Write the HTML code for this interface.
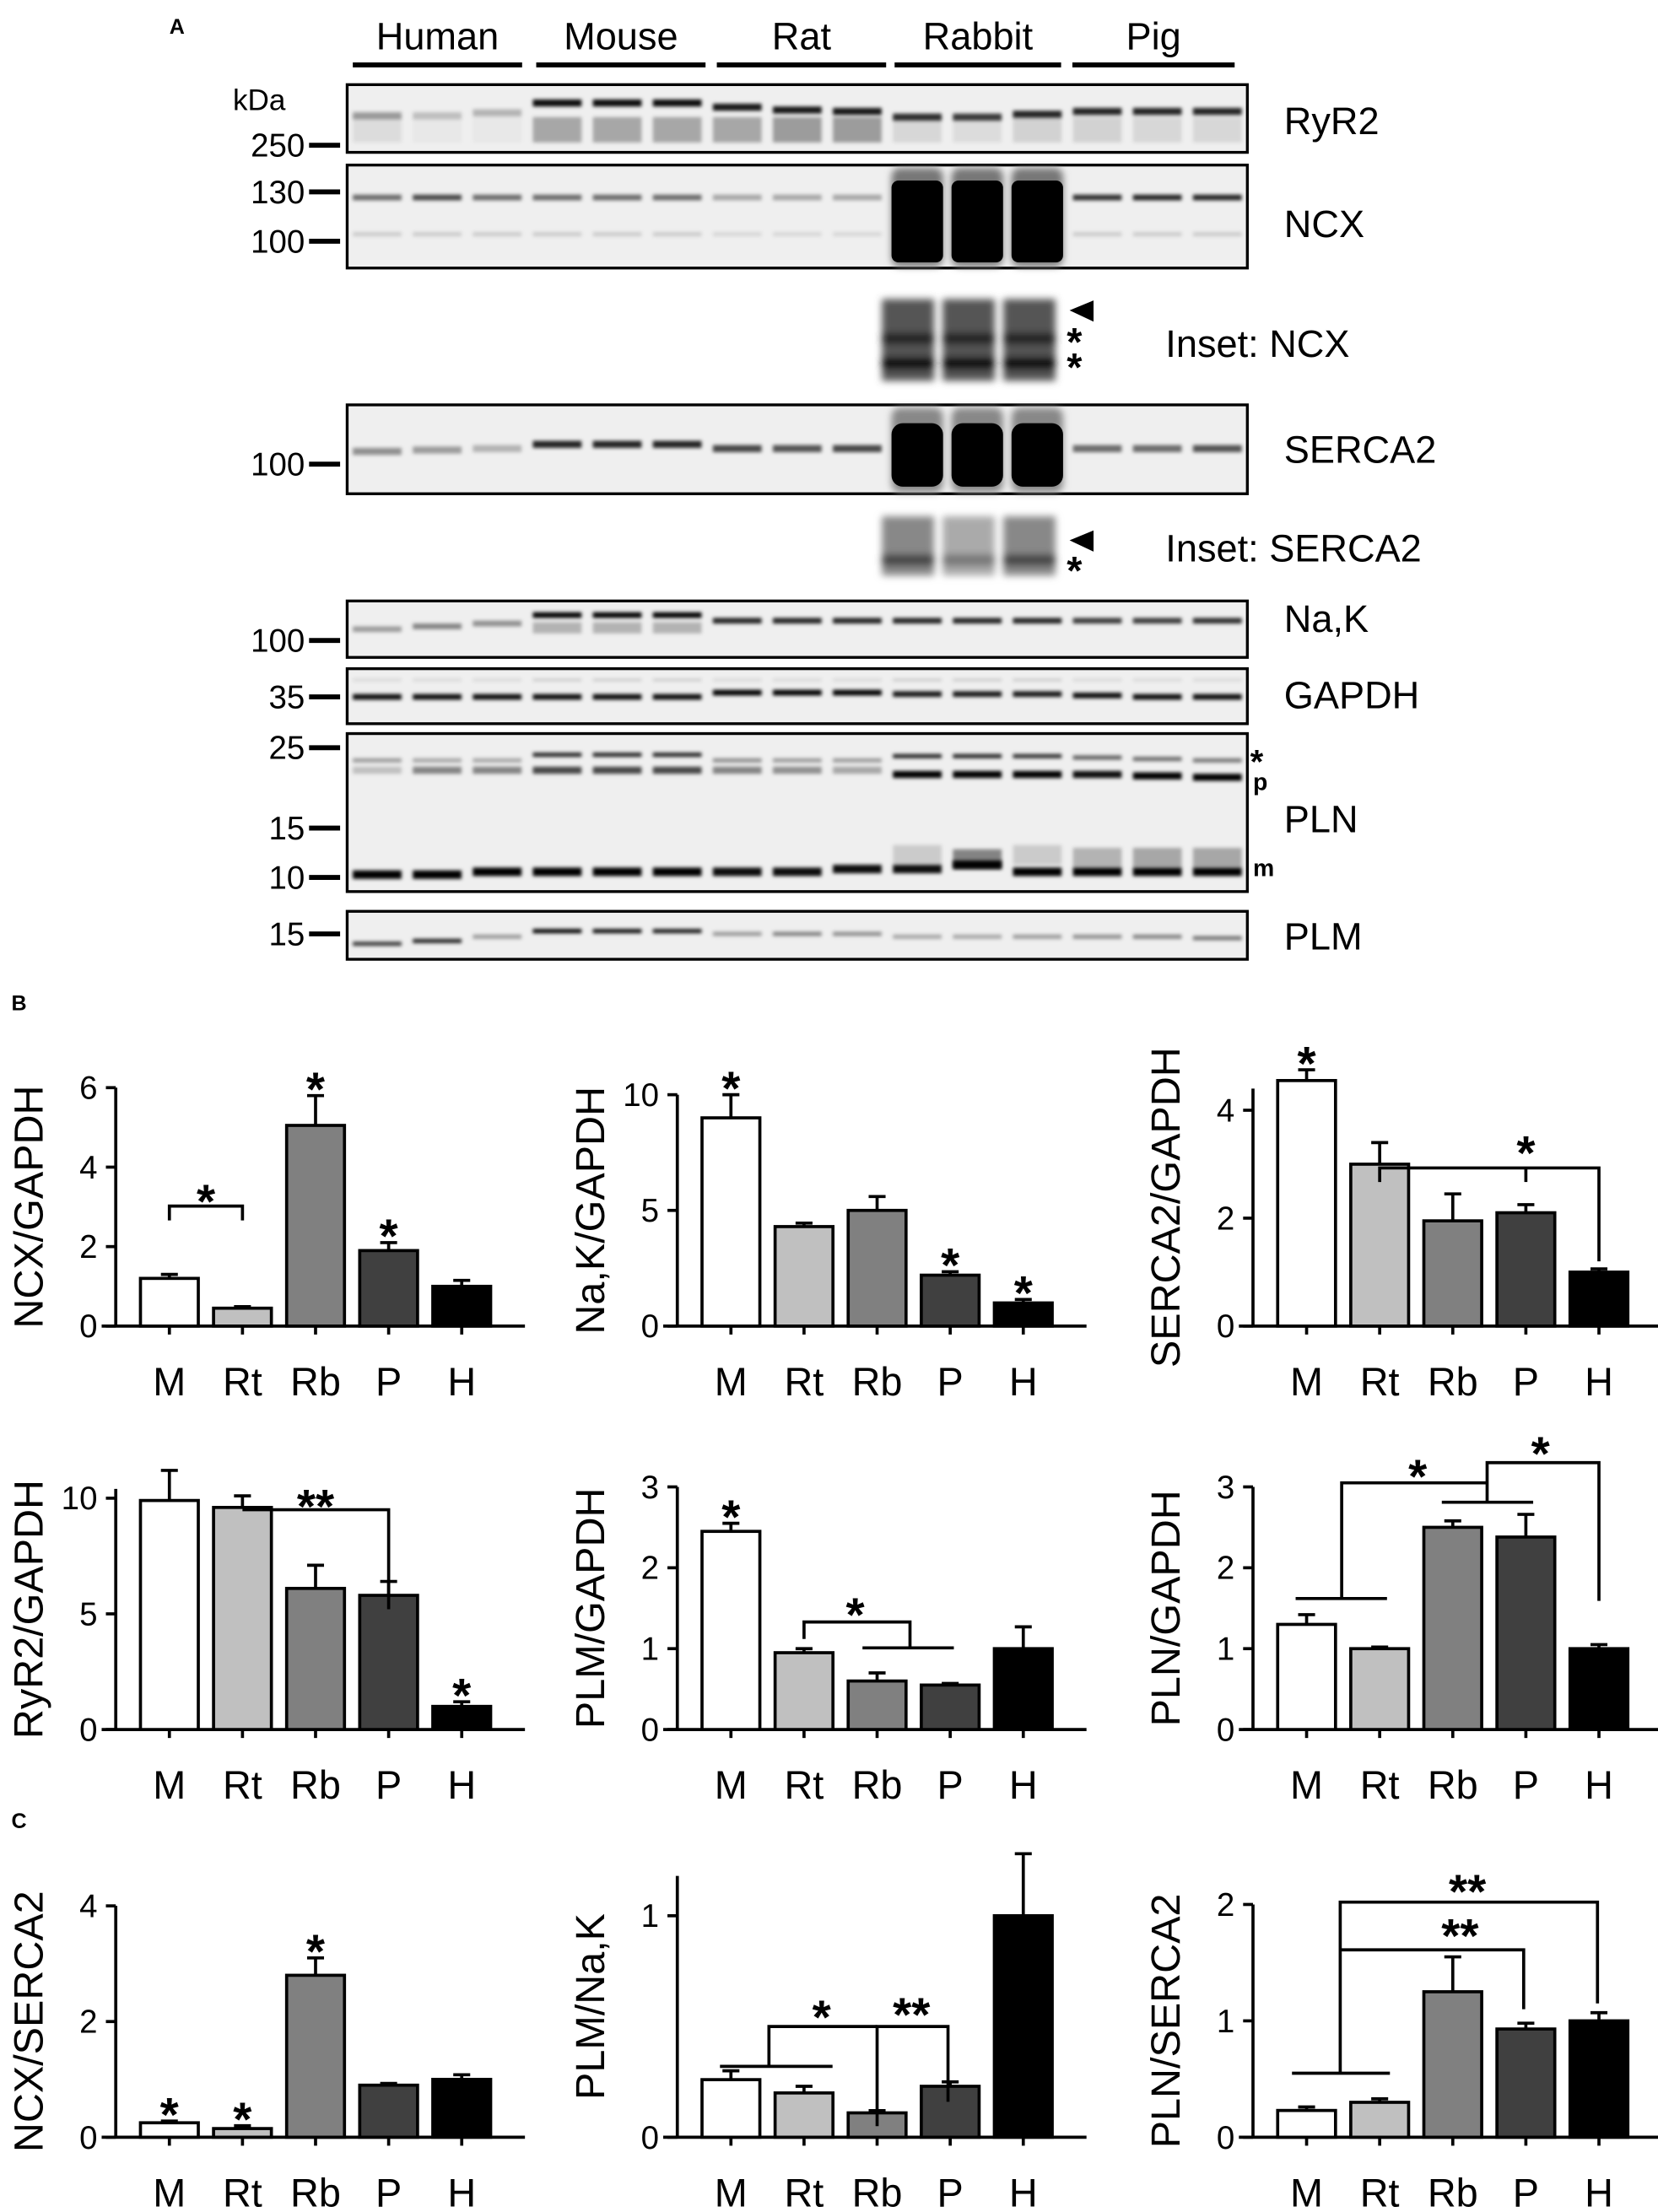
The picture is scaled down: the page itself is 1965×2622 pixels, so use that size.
<!DOCTYPE html>
<html><head><meta charset="utf-8"><style>
html,body{margin:0;padding:0;background:#fff;}
svg{display:block;font-family:"Liberation Sans",Arial,sans-serif;}
</style></head><body>
<svg id="fig" width="1965" height="2622" viewBox="0 0 1175 1568" xmlns="http://www.w3.org/2000/svg">
<defs>
<filter id="blur" x="-20%" y="-200%" width="140%" height="500%"><feGaussianBlur stdDeviation="1.3"/></filter>
<filter id="blur2" x="-20%" y="-50%" width="140%" height="200%"><feGaussianBlur stdDeviation="2.5"/></filter>
</defs>
<g id="blots"></g>
<g id="charts"></g>
</svg>
<script>
const NS="http://www.w3.org/2000/svg";
function mk(tag,attrs,parent,txt){const e=document.createElementNS(NS,tag);for(const k in attrs)e.setAttribute(k,attrs[k]);if(txt!==undefined)e.textContent=txt;parent.appendChild(e);return e;}

// ---------- Panel A: blots ----------
const B=document.getElementById('blots');
let t=mk('text',{x:120,y:24,'font-size':15,'font-weight':'bold'},B,'A');

const groups=['Human','Mouse','Rat','Rabbit','Pig'];
const groupX=[[250,370],[380,500],[508,628],[634,752],[760,875]];
groups.forEach((g,i)=>{
  const l=mk('text',{x:(groupX[i][0]+groupX[i][1])/2,y:35,'font-size':27,'text-anchor':'middle'},B,g);
  
  const u=mk('line',{x1:groupX[i][0],x2:groupX[i][1],y1:46,y2:46,stroke:'#000','stroke-width':3.5},B);
  
});
const LX=246,LW=638/15;
function laneX(i){return LX+LW*i+4;}
function blotBox(name,y0,y1,x0=246,x1=884){
  mk('rect',{x:x0,y:y0,width:x1-x0,height:y1-y0,fill:'#efefef'},B);
  const r=mk('rect',{x:x0,y:y0,width:x1-x0,height:y1-y0,fill:'none',stroke:'#000','stroke-width':2},B);
  
}
function bands(y,h,ops,dy){
  const g=mk('g',{filter:'url(#blur)'},B);
  ops.forEach((o,i)=>{if(o>0)mk('rect',{x:laneX(i),y:y+(dy?dy[i]:0)-h/2,width:LW-8,height:h,fill:'#000','fill-opacity':o},g);});
}
function marker(label,y){
  mk('text',{x:216,y:y+8,'font-size':23,'text-anchor':'end'},B,label);
  mk('line',{x1:219,x2:241,y1:y,y2:y,stroke:'#000','stroke-width':3.5},B);
}
function protein(label,y){
  const l=mk('text',{x:910,y:y+10,'font-size':27},B,label);
  
}
// RyR2
blotBox('ryr2-blot',60,108);
bands(82,5,[.35,.2,.25,.95,.95,.95,.9,.9,.9,.8,.75,.85,.85,.85,.85],[0,0,-2,-9,-9,-9,-6,-4,-3,1,1,-1,-3,-3,-3]);
bands(92,18,[.08,.03,.03,.3,.3,.3,.3,.35,.35,.1,.08,.12,.12,.1,.1]);
mk('text',{x:165,y:78,'font-size':21},B,'kDa');
marker('250',103);protein('RyR2',85);
// NCX
blotBox('ncx-blot',117,190);
bands(140,4,[.55,.7,.55,.55,.55,.55,.3,.3,.3,0,0,0,.8,.85,.85]);
bands(166,3,[.15,.15,.15,.15,.15,.15,.1,.1,.1,0,0,0,.15,.15,.15]);
[9,10,11].forEach(i=>{mk('rect',{x:laneX(i)-1,y:119,width:LW-6,height:70,rx:6,fill:'#777',filter:'url(#blur2)'},B);mk('rect',{x:laneX(i)-1,y:128,width:LW-6,height:58,rx:5,fill:'#000'},B);});
marker('130',136);marker('100',171);protein('NCX',158);
// Inset NCX
blotBox('inset-ncx-blot',621,206,752,275);
(function(){const g=mk('g',{filter:'url(#blur2)'},B);[0,1,2].forEach(i=>{const x=625+i*43;mk('rect',{x:x,y:212,width:37,height:58,fill:'#555'},g);mk('rect',{x:x,y:236,width:37,height:8,fill:'#222'},g);mk('rect',{x:x,y:253,width:37,height:9,fill:'#111'},g);});})();
mk('polygon',{points:'758,220 775,213 775,228'},B);
mk('text',{x:756,y:252,'font-size':28,'font-weight':'bold'},B,'*');
mk('text',{x:756,y:270,'font-size':28,'font-weight':'bold'},B,'*');
mk('text',{x:826,y:253,'font-size':27},B,'Inset: NCX');
// SERCA2
blotBox('serca2-blot',287,350);
bands(318,5,[.4,.35,.25,.85,.85,.85,.7,.65,.7,0,0,0,.55,.55,.65],[2,1,0,-3,-3,-3,0,0,0,0,0,0,0,0,0]);
[9,10,11].forEach(i=>{mk('rect',{x:laneX(i)-1,y:289,width:LW-6,height:60,rx:6,fill:'#888',filter:'url(#blur2)'},B);mk('rect',{x:laneX(i)-1,y:300,width:LW-6,height:45,rx:8,fill:'#000'},B);});
marker('100',329);protein('SERCA2',318);
// Inset SERCA2
blotBox('inset-serca2-blot',621,360,752,413);
(function(){const g=mk('g',{filter:'url(#blur2)'},B);[0,1,2].forEach(i=>{const x=625+i*43;mk('rect',{x:x,y:366,width:37,height:42,fill:i==1?'#aaa':'#888'},g);mk('rect',{x:x,y:393,width:37,height:8,fill:i==1?'#777':'#444'},g);});})();
mk('polygon',{points:'758,383 775,376 775,391'},B);
mk('text',{x:756,y:414,'font-size':28,'font-weight':'bold'},B,'*');
mk('text',{x:826,y:398,'font-size':27},B,'Inset: SERCA2');
// Na,K
blotBox('nak-blot',426,466);
bands(440,4,[.35,.45,.4,1,1,1,.85,.85,.85,.85,.85,.85,.75,.75,.8],[6,4,2,-4,-4,-4,0,0,0,0,0,0,0,0,0]);
bands(445,8,[0,0,0,.25,.25,.25,0,0,0,0,0,0,0,0,0]);
marker('100',454);protein('Na,K',438);
// GAPDH
blotBox('gapdh-blot',474,513);
bands(494,4,[.95,.95,.95,.95,.95,.95,1,1,1,.9,.9,.9,.95,.95,.95],[0,0,0,0,0,0,-3,-3,-3,-2,-2,-2,-1,0,0]);
bands(482,2,[.1,.1,.1,.15,.15,.15,.1,.1,.1,.15,.15,.15,.1,.1,.1]);
marker('35',494);protein('GAPDH',492);
// PLN
blotBox('pln-blot',520,632);
bands(537,3,[.35,.3,.3,.85,.85,.85,.4,.35,.35,.85,.85,.8,.6,.55,.5],[2,2,2,-2,-2,-2,2,2,2,-1,-1,-1,0,1,2]);
bands(546,5,[.2,.45,.45,.7,.7,.7,.45,.4,.3,1,1,1,.95,1,1],[0,0,0,0,0,0,0,0,0,3,3,3,3,4,5]);
bands(612,14,[0,0,0,0,0,0,0,0,0,.15,.45,.15,.25,.3,.3],[0,0,0,0,0,0,0,0,0,-6,-3,-6,-4,-4,-4]);
bands(618,6,[1,1,1,1,1,1,.95,.95,.95,.95,1,1,1,1,1],[2,2,0,0,0,0,0,0,-2,-2,-5,0,0,0,0]);
marker('25',530);marker('15',587);marker('10',622);protein('PLN',580);
mk('text',{x:886,y:548,'font-size':24,'font-weight':'bold'},B,'*');
mk('text',{x:888,y:560,'font-size':17,'font-weight':'bold'},B,'p');
mk('text',{x:888,y:621,'font-size':17,'font-weight':'bold'},B,'m');
// PLM
blotBox('plm-blot',646,680);
bands(664,3,[.75,.85,.35,1,.95,.9,.35,.45,.4,.3,.3,.35,.4,.45,.5],[5,3,0,-4,-4,-4,-2,-2,-2,0,0,0,0,0,1]);
marker('15',662);protein('PLM',663);

// ---------- Bar charts ----------
const cats=['M','Rt','Rb','P','H'];
const fills=['#ffffff','#c0c0c0','#808080','#404040','#000000'];
// values and errors
const ncxGapdh=[1.2,0.45,5.05,1.9,1.0];    const ncxGapdhErr=[0.1,0.04,0.75,0.2,0.15];
const nakGapdh=[9.0,4.3,5.0,2.2,1.0];       const nakGapdhErr=[1.0,0.15,0.6,0.15,0.15];
const sercaGapdh=[4.55,3.0,1.95,2.1,1.0];   const sercaGapdhErr=[0.2,0.4,0.5,0.15,0.06];
const ryrGapdh=[9.9,9.6,6.1,5.8,1.0];       const ryrGapdhErr=[1.3,0.5,1.0,0.6,0.2];
const plmGapdh=[2.45,0.95,0.6,0.55,1.0];    const plmGapdhErr=[0.1,0.05,0.1,0.02,0.27];
const plnGapdh=[1.3,1.0,2.5,2.38,1.0];      const plnGapdhErr=[0.12,0.02,0.08,0.28,0.05];
const ncxSerca=[0.25,0.15,2.8,0.9,1.0];     const ncxSercaErr=[0.03,0.05,0.3,0.03,0.08];
const plmNak=[0.26,0.2,0.11,0.23,1.0];      const plmNakErr=[0.04,0.03,0.01,0.02,0.28];
const plnSerca=[0.23,0.3,1.25,0.93,1.0];    const plnSercaErr=[0.03,0.03,0.3,0.05,0.07];
// y-axis tick labels
const ticksNcxGapdh=[0,2,4,6];
const ticksNakGapdh=[0,5,10];
const ticksSercaGapdh=[0,2,4];
const ticksRyrGapdh=[0,5,10];
const ticksPlmGapdh=[0,1,2,3];
const ticksPlnGapdh=[0,1,2,3];
const ticksNcxSerca=[0,2,4];
const ticksPlmNak=[0,1];
const ticksPlnSerca=[0,1,2];

const C=document.getElementById('charts');
const sB=mk('text',{x:8,y:716,'font-size':15,'font-weight':'bold'},C,'B');

const sC=mk('text',{x:8,y:1296,'font-size':15,'font-weight':'bold'},C,'C');


function chart(o){
  const g=mk('g',{},C);
  
  
  const yMax=o.axisMax, k=o.range/yMax;
  const X=i=>o.ax+38+i*51.8;
  const Y=v=>o.zero-v*k;
  const sw=2.2;
  // y axis
  const ya=mk('line',{x1:o.ax,x2:o.ax,y1:o.zero,y2:Y(o.axisTop||yMax),stroke:'#000','stroke-width':sw},g);
  
  o.ticks.forEach(tv=>{
    mk('line',{x1:o.ax-7,x2:o.ax,y1:Y(tv),y2:Y(tv),stroke:'#000','stroke-width':sw},g);
    const tl=mk('text',{x:o.ax-13,y:Y(tv)+8,'font-size':23,'text-anchor':'end'},g,String(tv));
    
  });
  // x axis
  const xa=mk('line',{x1:o.ax-10,x2:o.ax+290,y1:o.zero,y2:o.zero,stroke:'#000','stroke-width':sw},g);
  
  // title
  const cy=(o.zero+Y(o.axisTop||yMax))/2;
  const ti=mk('text',{x:0,y:0,'font-size':29,'text-anchor':'middle',transform:`translate(${o.ax-52},${cy}) rotate(-90)`},g,o.title);
  
  o.vals.forEach((v,i)=>{
    const x=X(i);
    const bar=mk('rect',{x:x-20.5,y:Y(v),width:41,height:o.zero-Y(v),fill:fills[i],stroke:'#000','stroke-width':sw},g);
    
    
    const et=v+o.err[i];
    const eb=mk('path',{d:`M${x},${Y(v)}V${Y(et)}M${x-6},${Y(et)}H${x+6}`,stroke:'#000','stroke-width':sw,fill:'none'},g);
    
    
    mk('line',{x1:x,x2:x,y1:o.zero,y2:o.zero+6,stroke:'#000','stroke-width':sw},g);
    const cl=mk('text',{x:x,y:o.zero+49,'font-size':28,'text-anchor':'middle'},g,cats[i]);
    
  });
  (o.stars||[]).forEach(i=>{
    const st=mk('text',{x:X(i),y:Y(o.vals[i]+o.err[i])+7,'font-size':34,'font-weight':'bold','text-anchor':'middle'},g,'*');
    
  });
  (o.brackets||[]).forEach(pts=>{
    const br=mk('polyline',{points:pts.map(p=>X(p[0])+','+Y(p[1])).join(' '),fill:'none',stroke:'#000','stroke-width':sw},g);
    
  });
  (o.marks||[]).forEach(m=>{
    const st=mk('text',{x:X(m[0]),y:Y(m[1])+19,'font-size':34,'font-weight':'bold','text-anchor':'middle'},g,m[2]);
    
  });
}
// row 1
chart({name:'ncx-gapdh-chart',ax:82,zero:940,range:169,axisMax:6,ticks:ticksNcxGapdh,vals:ncxGapdh,err:ncxGapdhErr,title:'NCX/GAPDH',stars:[2,3],
  brackets:[[[0,2.66],[0,3.02],[1,3.02],[1,2.66]]],marks:[[0.5,3.4,'*']]});
chart({name:'nak-gapdh-chart',ax:480,zero:940,range:164,axisMax:10,ticks:ticksNakGapdh,vals:nakGapdh,err:nakGapdhErr,title:'Na,K/GAPDH',stars:[0,3,4]});
chart({name:'serca2-gapdh-chart',ax:888,zero:940,range:153,axisMax:4,axisTop:4.4,ticks:ticksSercaGapdh,vals:sercaGapdh,err:sercaGapdhErr,title:'SERCA2/GAPDH',stars:[0],
  brackets:[[[1,2.67],[1,2.93],[4,2.93],[4,1.2]],[[3,2.93],[3,2.67]]],marks:[[3,3.4,'*']]});
// row 2
chart({name:'ryr2-gapdh-chart',ax:82,zero:1226,range:164,axisMax:10,axisTop:10.4,ticks:ticksRyrGapdh,vals:ryrGapdh,err:ryrGapdhErr,title:'RyR2/GAPDH',stars:[4],
  brackets:[[[1,9.5],[3,9.5],[3,5.2]]],marks:[[2,10.1,'**']]});
chart({name:'plm-gapdh-chart',ax:480,zero:1226,range:172,axisMax:3,ticks:ticksPlmGapdh,vals:plmGapdh,err:plmGapdhErr,title:'PLM/GAPDH',stars:[0],
  brackets:[[[1,1.12],[1,1.33],[2.45,1.33],[2.45,1.01]],[[1.8,1.01],[3.05,1.01]]],marks:[[1.7,1.55,'*']]});
chart({name:'pln-gapdh-chart',ax:888,zero:1226,range:172,axisMax:3,ticks:ticksPlnGapdh,vals:plnGapdh,err:plnGapdhErr,title:'PLN/GAPDH',
  brackets:[[[-0.15,1.62],[1.1,1.62]],[[0.48,1.62],[0.48,3.05],[2.47,3.05]],[[2.47,2.81],[2.47,3.30],[4,3.30],[4,1.59]],[[1.85,2.81],[3.1,2.81]]],
  marks:[[1.52,3.26,'*'],[3.2,3.54,'*']]});
// row 3
chart({name:'ncx-serca2-chart',ax:82,zero:1515,range:164,axisMax:4,ticks:ticksNcxSerca,vals:ncxSerca,err:ncxSercaErr,title:'NCX/SERCA2',stars:[0,1,2]});
chart({name:'plm-nak-chart',ax:480,zero:1515,range:157,axisMax:1,axisTop:1.18,ticks:ticksPlmNak,vals:plmNak,err:plmNakErr,title:'PLM/Na,K',
  brackets:[[[-0.15,0.32],[1.39,0.32]],[[0.52,0.32],[0.52,0.5],[2.0,0.5]],[[2.0,0.05],[2.0,0.5],[2.97,0.5],[2.97,0.16]]],
  marks:[[1.24,0.59,'*'],[2.47,0.6,'**']]});
chart({name:'pln-serca2-chart',ax:888,zero:1515,range:165,axisMax:2,ticks:ticksPlnSerca,vals:plnSerca,err:plnSercaErr,title:'PLN/SERCA2',
  brackets:[[[-0.2,0.55],[1.14,0.55]],[[0.46,0.55],[0.46,2.02],[3.98,2.02],[3.98,1.15]],[[0.46,1.61],[2.97,1.61],[2.97,1.1]]],
  marks:[[2.1,1.82,'**'],[2.2,2.2,'**']]});
</script>
</body></html>
